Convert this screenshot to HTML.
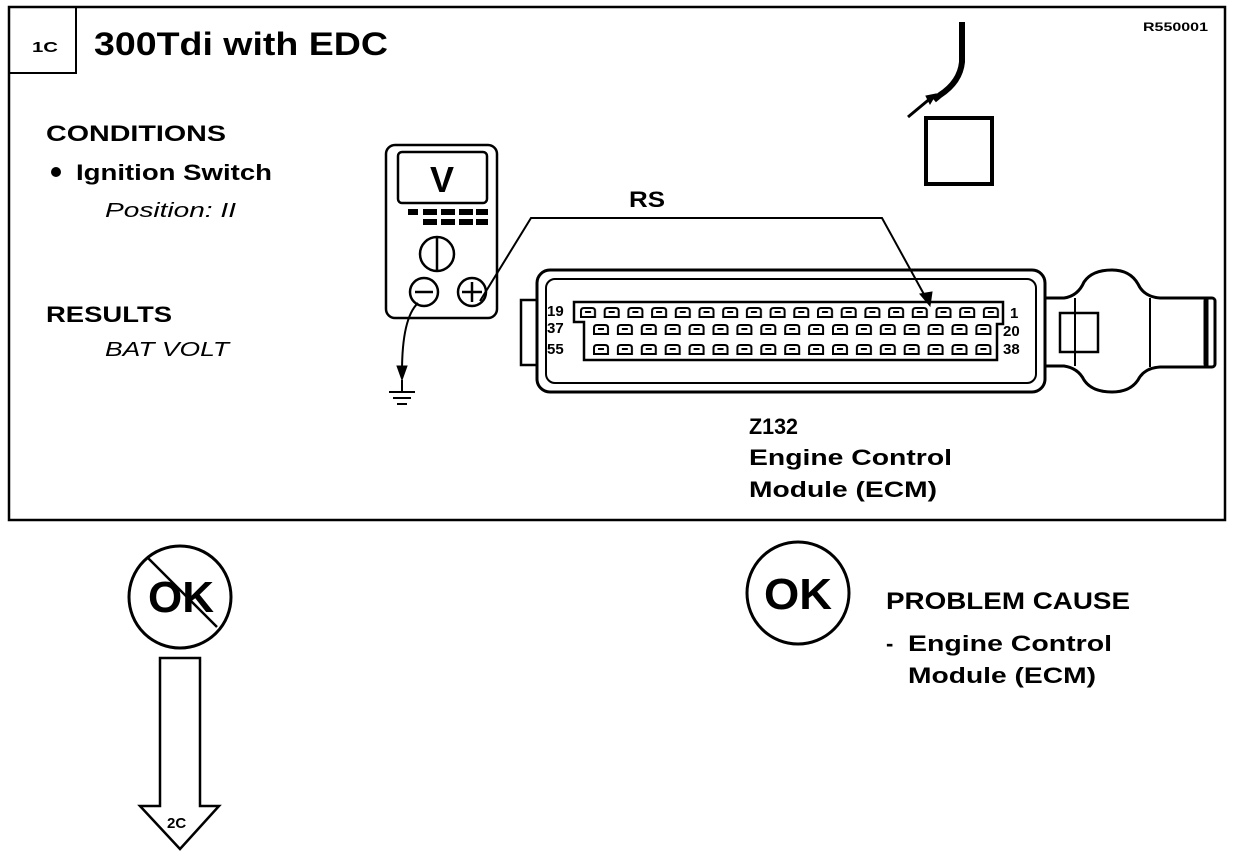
<!DOCTYPE html>
<html><head><meta charset="utf-8"><style>
html,body{margin:0;padding:0;background:#fff;}
svg{display:block;}
text{font-family:"Liberation Sans",Arial,sans-serif;font-weight:bold;fill:#000;}
.it{font-style:italic;font-weight:normal;}
</style></head><body>
<svg width="1248" height="862" viewBox="0 0 1248 862" xmlns="http://www.w3.org/2000/svg">
<defs>
<pattern id="p1" x="579" y="306" width="23.7" height="12" patternUnits="userSpaceOnUse">
<path d="M2,11 V5 Q2,2 5,2 H13 Q16,2 16,5 V11 Z M6,6 H12" fill="none" stroke="#000" stroke-width="2"/>
</pattern>
<pattern id="p2" x="592" y="323" width="23.9" height="12" patternUnits="userSpaceOnUse">
<path d="M2,11 V5 Q2,2 5,2 H13 Q16,2 16,5 V11 Z M6,6 H12" fill="none" stroke="#000" stroke-width="2"/>
</pattern>
<pattern id="p3" x="592" y="343" width="23.9" height="12" patternUnits="userSpaceOnUse">
<path d="M2,11 V5 Q2,2 5,2 H13 Q16,2 16,5 V11 Z M6,6 H12" fill="none" stroke="#000" stroke-width="2"/>
</pattern>
</defs>
<g fill="none" stroke="#000">
<rect x="9" y="7" width="1216" height="513" stroke-width="2.5"/>
<rect x="9" y="7" width="67" height="66" stroke-width="2"/>
<path d="M962,22 V62 Q960,82 940,95 L934,100" stroke-width="6"/>
<path d="M908,117 L932,97" stroke-width="3"/>
<path d="M926,96 L936,94 L930,104 Z" fill="#000" stroke-width="1"/>
<rect x="926" y="118" width="66" height="66" stroke-width="4"/>
<rect x="386" y="145" width="111" height="173" rx="9" stroke-width="2.5"/>
<rect x="398" y="152" width="89" height="51" rx="4" stroke-width="2.5"/>
<line x1="437" y1="238" x2="437" y2="270" stroke-width="2.5"/>
<circle cx="437" cy="254" r="17" stroke-width="2.5"/>
<circle cx="424" cy="292" r="14" stroke-width="2.5"/>
<line x1="415" y1="292" x2="433" y2="292" stroke-width="2.5"/>
<circle cx="472" cy="292" r="14" stroke-width="2.5"/>
<line x1="462" y1="292" x2="482" y2="292" stroke-width="2.5"/>
<line x1="472" y1="282" x2="472" y2="302" stroke-width="2.5"/>
<path d="M480,301 L531,218 H882 L926,298" stroke-width="2"/>
<path d="M920,294 L930,306 L932,292 Z" fill="#000" stroke-width="1"/>
<path d="M418,303 Q402,318 402,372" stroke-width="2"/>
<path d="M397,366 L402,380 L407,366 Z" fill="#000" stroke-width="1"/>
<line x1="402" y1="380" x2="402" y2="392" stroke-width="2"/>
<line x1="389" y1="392" x2="415" y2="392" stroke-width="2"/>
<line x1="393" y1="398" x2="411" y2="398" stroke-width="2"/>
<line x1="397" y1="404" x2="407" y2="404" stroke-width="2"/>
<rect x="537" y="270" width="508" height="122" rx="13" stroke-width="3"/>
<rect x="546" y="279" width="490" height="104" rx="9" stroke-width="2"/>
<rect x="521" y="300" width="16" height="65" stroke-width="2.5"/>
<path d="M574,302 H1003 V324 H997 V360 H584 V322 H574 Z" stroke-width="2.5"/>
<path d="M1045,298 H1064 Q1078,296 1084,282 Q1092,270 1112,270 Q1130,270 1138,284 Q1144,297 1160,298 H1207 V367 H1160 Q1144,368 1138,380 Q1130,392 1112,392 Q1092,392 1084,380 Q1078,368 1064,366 H1045" stroke-width="3"/>
<rect x="1205" y="298" width="10" height="69" rx="3" stroke-width="3"/>
<rect x="1060" y="313" width="38" height="39" stroke-width="2.5"/>
<line x1="1075" y1="298" x2="1075" y2="366" stroke-width="2"/>
<line x1="1150" y1="298" x2="1150" y2="367" stroke-width="2"/>
<circle cx="180" cy="597" r="51" stroke-width="3"/>
<line x1="147" y1="557" x2="217" y2="627" stroke-width="2.5"/>
<circle cx="798" cy="593" r="51" stroke-width="3"/>
<path d="M160,658 H200 V806 H219 L180,849 L140,806 H160 Z" stroke-width="2.5"/>
</g>
<g fill="#000">
<rect x="408" y="209" width="10" height="6"/><rect x="423" y="209" width="14" height="6"/><rect x="441" y="209" width="14" height="6"/><rect x="459" y="209" width="14" height="6"/><rect x="476" y="209" width="12" height="6"/>
<rect x="423" y="219" width="14" height="6"/><rect x="441" y="219" width="14" height="6"/><rect x="459" y="219" width="14" height="6"/><rect x="476" y="219" width="12" height="6"/>
</g>
<rect x="579" y="306" width="426" height="12" fill="url(#p1)"/>
<rect x="592" y="323" width="406" height="12" fill="url(#p2)"/>
<rect x="592" y="343" width="406" height="12" fill="url(#p3)"/>
<text x="32" y="52" font-size="15" textLength="26" lengthAdjust="spacingAndGlyphs">1C</text>
<text x="94" y="55" font-size="32" textLength="294" lengthAdjust="spacingAndGlyphs">300Tdi with EDC</text>
<text x="1143" y="31" font-size="12" font-weight="normal" textLength="65" lengthAdjust="spacingAndGlyphs">R550001</text>
<text x="46" y="141" font-size="22" textLength="180" lengthAdjust="spacingAndGlyphs">CONDITIONS</text>
<circle cx="56" cy="172" r="5" fill="#000"/>
<text x="76" y="180" font-size="22" textLength="196" lengthAdjust="spacingAndGlyphs">Ignition Switch</text>
<text x="105" y="217" font-size="20" class="it" textLength="131" lengthAdjust="spacingAndGlyphs">Position: II</text>
<text x="46" y="322" font-size="22" textLength="126" lengthAdjust="spacingAndGlyphs">RESULTS</text>
<text x="105" y="356" font-size="20" class="it" textLength="124" lengthAdjust="spacingAndGlyphs">BAT VOLT</text>
<text x="430" y="192" font-size="36">V</text>
<text x="629" y="207" font-size="22" textLength="36" lengthAdjust="spacingAndGlyphs">RS</text>
<text x="547" y="316" font-size="15" font-weight="normal">19</text>
<text x="547" y="333" font-size="15" font-weight="normal">37</text>
<text x="547" y="354" font-size="15" font-weight="normal">55</text>
<text x="1010" y="318" font-size="15" font-weight="normal">1</text>
<text x="1003" y="336" font-size="15" font-weight="normal">20</text>
<text x="1003" y="354" font-size="15" font-weight="normal">38</text>
<text x="749" y="434" font-size="22" textLength="49" lengthAdjust="spacingAndGlyphs">Z132</text>
<text x="749" y="465" font-size="22" textLength="203" lengthAdjust="spacingAndGlyphs">Engine Control</text>
<text x="749" y="497" font-size="22" textLength="188" lengthAdjust="spacingAndGlyphs">Module (ECM)</text>
<text x="148" y="612" font-size="44" textLength="66" lengthAdjust="spacingAndGlyphs">OK</text>
<text x="764" y="609" font-size="44" textLength="68" lengthAdjust="spacingAndGlyphs">OK</text>
<text x="886" y="609" font-size="24" textLength="244" lengthAdjust="spacingAndGlyphs">PROBLEM CAUSE</text>
<text x="886" y="651" font-size="22">-</text>
<text x="908" y="651" font-size="22" textLength="204" lengthAdjust="spacingAndGlyphs">Engine Control</text>
<text x="908" y="683" font-size="22" textLength="188" lengthAdjust="spacingAndGlyphs">Module (ECM)</text>
<text x="167" y="828" font-size="15">2C</text>
</svg>
</body></html>
